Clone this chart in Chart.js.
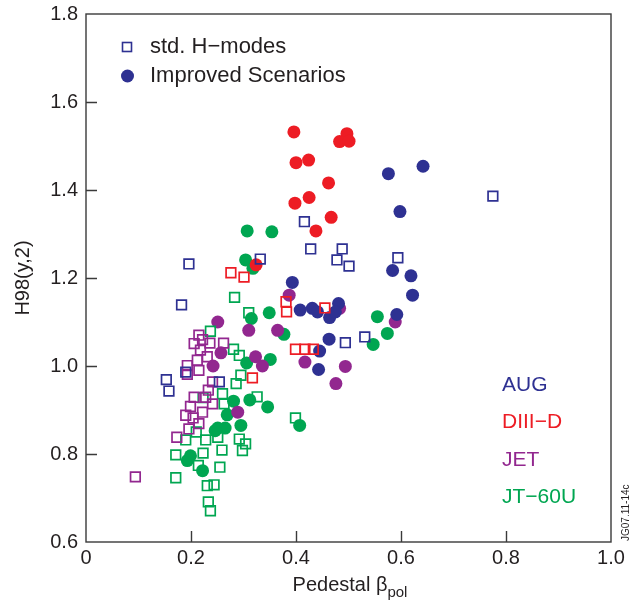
<!DOCTYPE html>
<html>
<head>
<meta charset="utf-8">
<script src="https://cdn.jsdelivr.net/npm/chart.js@4.4.1/dist/chart.umd.min.js"></script>
<style>
  html, body { margin: 0; padding: 0; background: #fff; }
</style>
</head>
<body>
<canvas id="myChart" width="642" height="604"></canvas>
<script>
// pedestal beta_pol vs H98(y,2), one pair of arrays per machine
const augStd = [[0.153,0.969],[0.158,0.943],[0.182,1.139],[0.196,1.232],[0.190,0.986],[0.254,0.964],
  [0.332,1.243],[0.416,1.328],[0.428,1.266],[0.488,1.266],[0.478,1.241],[0.501,1.227],[0.594,1.246],
  [0.494,1.053],[0.531,1.066],[0.775,1.386]];
const augImp = [[0.576,1.437],[0.642,1.454],[0.598,1.351],[0.584,1.217],[0.619,1.205],[0.622,1.161],
  [0.393,1.190],[0.408,1.127],[0.431,1.131],[0.441,1.123],[0.464,1.110],[0.481,1.142],[0.475,1.123],
  [0.592,1.117],[0.463,1.061],[0.445,1.034],[0.443,0.992]];
const d3dStd = [[0.276,1.212],[0.301,1.202],[0.381,1.146],[0.382,1.123],[0.399,1.038],[0.417,1.038],
  [0.433,1.038],[0.455,1.132],[0.317,0.973]];
const d3dImp = [[0.396,1.532],[0.497,1.528],[0.483,1.510],[0.501,1.511],[0.400,1.462],[0.424,1.468],
  [0.462,1.416],[0.425,1.383],[0.398,1.370],[0.467,1.338],[0.438,1.307],[0.324,1.230]];
const jetStd = [[0.094,0.748],[0.173,0.838],[0.215,1.070],[0.206,1.051],[0.222,1.060],[0.236,1.052],
  [0.218,1.036],[0.262,1.052],[0.212,1.013],[0.193,1.001],[0.231,1.021],[0.215,0.990],[0.193,0.981],
  [0.241,0.964],[0.233,0.945],[0.206,0.929],[0.228,0.929],[0.199,0.908],[0.222,0.895],[0.204,0.882],
  [0.215,0.869],[0.196,0.857],[0.190,0.888],[0.241,0.914]];
const jetImp = [[0.251,1.100],[0.310,1.081],[0.365,1.081],[0.257,1.030],[0.323,1.021],[0.336,1.000],
  [0.242,1.000],[0.387,1.161],[0.483,1.131],[0.589,1.100],[0.417,1.009],[0.494,0.999],[0.476,0.960],
  [0.289,0.895]];
const jtStd = [[0.283,1.156],[0.310,1.121],[0.237,1.079],[0.281,1.038],[0.292,1.024],[0.295,0.979],
  [0.286,0.960],[0.223,0.928],[0.260,0.937],[0.263,0.914],[0.326,0.930],[0.190,0.832],[0.210,0.850],
  [0.228,0.832],[0.251,0.838],[0.259,0.809],[0.292,0.834],[0.304,0.823],[0.298,0.808],[0.171,0.798],
  [0.223,0.802],[0.214,0.774],[0.255,0.770],[0.171,0.746],[0.231,0.728],[0.244,0.730],[0.233,0.691],
  [0.237,0.671],[0.399,0.882]];
const jtImp = [[0.307,1.307],[0.354,1.305],[0.304,1.241],[0.318,1.222],[0.315,1.108],[0.349,1.121],
  [0.377,1.072],[0.351,1.015],[0.306,1.007],[0.555,1.112],[0.574,1.074],[0.547,1.049],[0.281,0.920],
  [0.312,0.923],[0.346,0.907],[0.269,0.889],[0.251,0.859],[0.265,0.859],[0.295,0.865],[0.246,0.853],
  [0.199,0.796],[0.193,0.785],[0.222,0.762],[0.407,0.865]];

const xTickLabels = ['0', '0.2', '0.4', '0.6', '0.8', '1.0'];
const yTickLabels = ['0.6', '0.8', '1.0', '1.2', '1.4', '1.6', '1.8'];
const machines = ['AUG', 'DIII\u2212D', 'JET', 'JT\u221260U'];
const legendLabels = ['std. H\u2212modes', 'Improved Scenarios'];

const BLUE = '#2e3192', RED = '#ed1c24', PURPLE = '#92278f', GREEN = '#00a651';
const INK = '#231f20', FRAME = '#3a3a3a';
const FONT = '"Liberation Sans", Arial, Helvetica, sans-serif';

const makeSet = (label, points, color, filled) => ({
  label,
  data: points.map(([x, y]) => ({ x, y })),
  pointStyle: filled ? 'circle' : 'rect',
  pointRadius: filled ? 6.5 : 6.8,
  pointBorderWidth: filled ? 0 : 1.7,
  pointBackgroundColor: filled ? color : 'rgba(255,255,255,0)',
  pointBorderColor: color,
  showLine: false
});

// frame, inward ticks, titles and the text keys
const decorations = {
  id: 'decorations',
  afterDraw(chart) {
    const { ctx, chartArea: a, scales: { x, y } } = chart;
    ctx.save();
    ctx.strokeStyle = FRAME;
    ctx.lineWidth = 1.4;
    ctx.strokeRect(a.left, a.top, a.right - a.left, a.bottom - a.top);
    ctx.beginPath();
    x.ticks.slice(1, -1).forEach(t => {
      const px = Math.round(x.getPixelForValue(t.value)) + 0.5;
      ctx.moveTo(px, a.bottom); ctx.lineTo(px, a.bottom - 11);
    });
    y.ticks.slice(1, -1).forEach(t => {
      const py = Math.round(y.getPixelForValue(t.value)) + 0.5;
      ctx.moveTo(a.left, py); ctx.lineTo(a.left + 11, py);
    });
    ctx.stroke();

    ctx.fillStyle = INK;
    ctx.textBaseline = 'alphabetic';
    // y title
    ctx.save();
    ctx.translate(29, (a.top + a.bottom) / 2);
    ctx.rotate(-Math.PI / 2);
    ctx.textAlign = 'center';
    ctx.font = '20px ' + FONT;
    ctx.fillText('H98(y,2)', 0, 0);
    ctx.restore();
    // x title with subscript
    ctx.font = '20px ' + FONT;
    const main = 'Pedestal \u03b2';
    ctx.textAlign = 'left';
    const w1 = ctx.measureText(main).width;
    ctx.font = '15px ' + FONT;
    const w2 = ctx.measureText('pol').width;
    const x0 = 350 - (w1 + w2) / 2;
    ctx.font = '20px ' + FONT;
    ctx.fillText(main, x0, 591);
    ctx.font = '15px ' + FONT;
    ctx.fillText('pol', x0 + w1, 597);

    // symbol legend
    ctx.font = '22px ' + FONT;
    ctx.textBaseline = 'middle';
    ctx.strokeStyle = BLUE;
    ctx.lineWidth = 1.6;
    ctx.strokeRect(122.5, 42.5, 9, 9);
    ctx.fillText(legendLabels[0], 150, 47);
    ctx.fillStyle = BLUE;
    ctx.beginPath();
    ctx.arc(127.5, 76, 6.5, 0, Math.PI * 2);
    ctx.fill();
    ctx.fillStyle = INK;
    ctx.fillText(legendLabels[1], 150, 76);

    // machine colour key
    ctx.font = '21px ' + FONT;
    [BLUE, RED, PURPLE, GREEN].forEach((c, i) => {
      ctx.fillStyle = c;
      ctx.fillText(machines[i], 502, 385 + i * 37.5);
    });

    // figure code on the right edge
    ctx.save();
    ctx.translate(626, 541);
    ctx.rotate(-Math.PI / 2);
    ctx.font = '10px ' + FONT;
    ctx.fillStyle = INK;
    ctx.textAlign = 'left';
    ctx.fillText('JG07.11-14c', 0, 0);
    ctx.restore();
    ctx.restore();
  }
};

new Chart(document.getElementById('myChart'), {
  type: 'scatter',
  data: {
    datasets: [
      makeSet('AUG std', augStd, BLUE, false),
      makeSet('DIII-D std', d3dStd, RED, false),
      makeSet('JET std', jetStd, PURPLE, false),
      makeSet('JT-60U std', jtStd, GREEN, false),
      makeSet('DIII-D improved', d3dImp, RED, true),
      makeSet('AUG improved', augImp, BLUE, true),
      makeSet('JET improved', jetImp, PURPLE, true),
      makeSet('JT-60U improved', jtImp, GREEN, true)
    ]
  },
  options: {
    responsive: false,
    animation: false,
    events: [],
    layout: { padding: { top: 14, right: 31, left: 0, bottom: 0 } },
    plugins: { legend: { display: false }, tooltip: { enabled: false } },
    scales: {
      x: {
        type: 'linear', min: 0, max: 1,
        grid: { display: false, drawTicks: false },
        border: { display: false },
        ticks: {
          stepSize: 0.2, autoSkip: false, maxRotation: 0, padding: 4,
          color: INK, font: { family: FONT, size: 20 },
          callback: (v, i) => xTickLabels[i]
        },
        afterFit: s => { s.height = 62; s.paddingLeft = 0; s.paddingRight = 0; }
      },
      y: {
        type: 'linear', min: 0.6, max: 1.8,
        grid: { display: false, drawTicks: false },
        border: { display: false },
        ticks: {
          stepSize: 0.2, autoSkip: false, padding: 8,
          color: INK, font: { family: FONT, size: 20 },
          callback: (v, i) => yTickLabels[i]
        },
        afterFit: s => { s.width = 86; s.paddingTop = 0; s.paddingBottom = 0; }
      }
    }
  },
  plugins: [decorations]
});
</script>
</body>
</html>
